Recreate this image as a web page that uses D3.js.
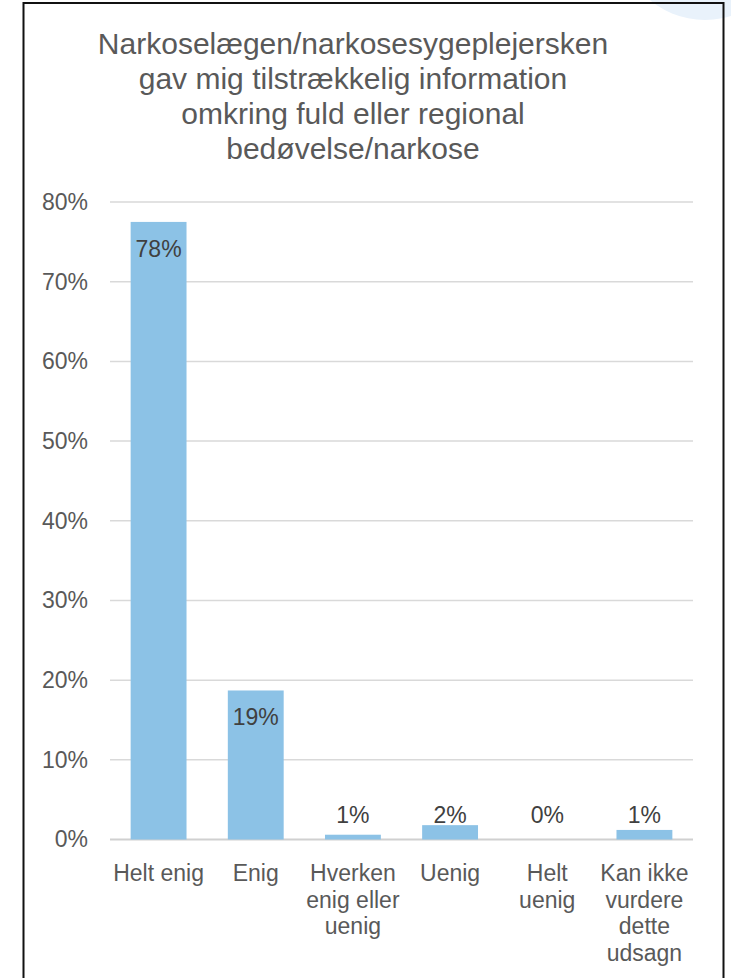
<!DOCTYPE html>
<html>
<head>
<meta charset="utf-8">
<script src="https://cdn.jsdelivr.net/npm/d3@7"></script>
<style>
  html, body { margin: 0; padding: 0; background: #ffffff; }
  svg { display: block; font-family: "Liberation Sans", Arial, sans-serif; }
</style>
</head>
<body>
<svg id="chart" width="731" height="978"></svg>
<script>
const titleLines = ["Narkoselægen/narkosesygeplejersken", "gav mig tilstrækkelig information", "omkring fuld eller regional", "bedøvelse/narkose"];
const categories = ["Helt enig", "Enig", "Hverken enig eller uenig", "Uenig", "Helt uenig", "Kan ikke vurdere dette udsagn"];
const values = [77.5, 18.7, 0.6, 1.8, 0, 1.2];
const yTicks = [0, 10, 20, 30, 40, 50, 60, 70, 80];

const svg = d3.select("#chart");

// decorative circle in the top-right corner
svg.append("circle").attr("cx", 705).attr("cy", -66).attr("r", 86).attr("fill", "#e9f2fb");

// frame
svg.append("rect").attr("x", 23.5).attr("y", 3).attr("width", 700).attr("height", 1000)
  .attr("fill", "none").attr("stroke", "#111").attr("stroke-width", 2);

// title
const title = svg.append("text").attr("text-anchor", "middle").attr("fill", "#595959")
  .attr("font-size", 30);
titleLines.forEach((t, i) => {
  title.append("tspan").attr("x", 353).attr("y", 54 + i * 35).text(t);
});

const x = d3.scaleBand().domain(categories).range([110, 693]).paddingInner(0.425).paddingOuter(0.2125);
const y = d3.scaleLinear().domain([0, 80]).range([839.5, 202]);

// gridlines
svg.append("g").selectAll("line").data(yTicks).join("line")
  .attr("x1", 110).attr("x2", 693)
  .attr("y1", d => y(d)).attr("y2", d => y(d))
  .attr("stroke", d => d === 0 ? "#d0d0d0" : "#d9d9d9")
  .attr("stroke-width", d => d === 0 ? 2 : 1.5);

// y axis labels
const yAxis = d3.axisLeft(y).tickValues(yTicks).tickFormat(d => d + "%").tickSize(0).tickPadding(0);
const ya = svg.append("g").attr("transform", "translate(88,0)").call(yAxis);
ya.select(".domain").remove();
ya.selectAll("text").attr("font-size", 23).attr("fill", "#595959")
  .attr("font-family", "Liberation Sans, Arial, sans-serif");

// bars
svg.append("g").selectAll("rect").data(values).join("rect")
  .attr("x", (d, i) => x(categories[i]))
  .attr("width", x.bandwidth())
  .attr("y", d => y(d))
  .attr("height", d => y(0) - y(d))
  .attr("fill", "#8cc2e6");

// data labels
svg.append("g").selectAll("text").data(values).join("text")
  .attr("x", (d, i) => x(categories[i]) + x.bandwidth() / 2)
  .attr("y", d => (y(0) - y(d) > 40) ? y(d) + 35 : y(0) - 17)
  .attr("text-anchor", "middle")
  .attr("font-size", 23)
  .attr("fill", "#404040")
  .text(d => Math.round(d) + "%");

// category labels with wrapping
const xAxis = svg.append("g");
categories.forEach((c) => {
  const cx = x(c) + x.bandwidth() / 2;
  const t = xAxis.append("text").attr("text-anchor", "middle").attr("font-size", 23)
    .attr("fill", "#595959");
  const words = c.split(" ");
  const maxW = x.step();
  let line = [];
  let lineNo = 0;
  let tspan = t.append("tspan").attr("x", cx).attr("y", 881);
  words.forEach(w => {
    line.push(w);
    tspan.text(line.join(" "));
    if (tspan.node().getComputedTextLength() > maxW && line.length > 1) {
      line.pop();
      tspan.text(line.join(" "));
      line = [w];
      lineNo++;
      tspan = t.append("tspan").attr("x", cx).attr("y", 881 + lineNo * 26.7).text(w);
    }
  });
});
</script>
</body>
</html>
